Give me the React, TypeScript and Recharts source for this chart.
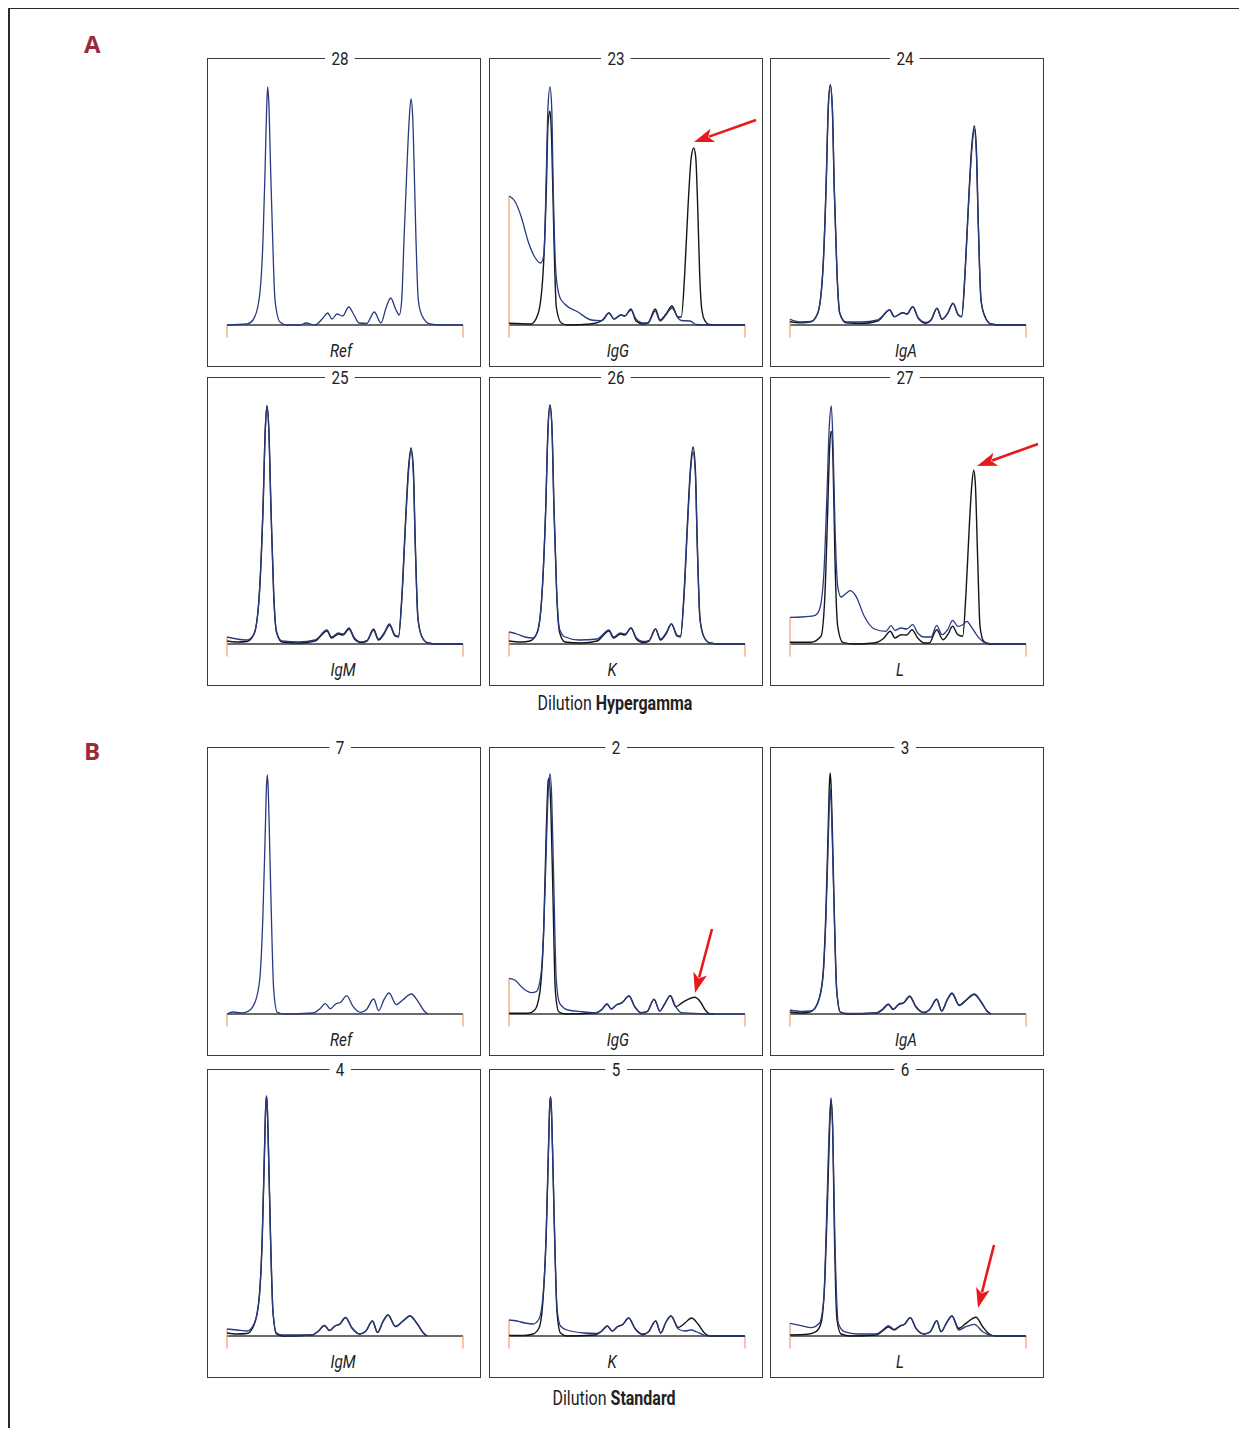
import React from "react"
import { LineChart, Line, XAxis, YAxis, ReferenceLine } from "recharts"

type Pt = [number, number]

// x: migration distance along the lane (0..236), y: density above the baseline
const X_MAX = 236
const Y_MIN = -13
const Y_MAX = 245

// ---- A: dilution hypergamma ----
const aRefBlue: Pt[] = [[0,0],[20,1],[26,5],[32,25],[36,85],[38,152],[39.7,218],[40.7,238],[42,218],[43.7,152],[45.7,85],[48,25],[53,3],[60,0],[73,0],[79,2],[88,0],[96,7],[100.7,12],[105,6],[110,11],[115.7,9],[121.7,18],[127,10],[132,2],[139.7,1.5],[147.3,13],[154,2],[159,17],[163.7,27],[169,15],[172.3,10],[174.7,25],[177,85],[179.7,152],[182,202],[184,226],[185.7,208],[187.3,152],[189,85],[191.3,25],[194.7,10],[203,1],[213,0],[236,0]]

const aIgGBlue: Pt[] = [[0,129],[5.7,124],[12.3,108],[19,84],[25.7,68],[31.7,62],[35,71],[37.3,151],[39,218],[41,238],[42.7,218],[44.3,134],[47,51],[50.7,28],[55.7,21],[69,13],[82.3,5],[92,4.3],[100,12],[105,6],[112,10],[115.7,9],[122,15],[127,6],[134,2],[139,2],[146.3,14],[151,4],[157,10],[163,17],[169,7],[172.3,4.5],[181,4],[187,0.5],[195,0],[236,0]]
const aIgGBlack: Pt[] = [[0,1.7],[22,1],[29,11],[34,51],[37.3,134],[39,201],[41,214],[42.7,184],[45,84],[47.3,18],[52.3,2],[59,0],[82,1],[94,5],[100,12],[105,6],[112,10],[115.7,9],[122,16],[127,4],[134,1],[139,2],[146.3,16],[151,5],[157,11],[163,19],[169,8],[172.3,8],[175.7,51],[179,118],[182.3,168],[184.7,177],[186.7,168],[188.7,118],[190.7,50],[193,14],[196,4],[200,0.5],[205,0],[236,0]]

const aIgABlue: Pt[] = [[0,5.7],[11,3],[21,3.5],[27.7,11.7],[32.7,51.7],[36,135],[38.3,218],[40.3,240],[42.3,218],[44.3,135],[47,52],[49.7,12],[56,3],[71,3],[87.7,5],[99.7,15],[104.3,8.3],[112.7,12.3],[117,11],[122.7,18.3],[128.3,7],[136,2.5],[141,5],[147,16.7],[152,5.7],[157.7,11.7],[163,21.7],[168.3,10],[171.7,8.3],[175,50],[178.3,116],[181.7,174],[184.3,195],[186.3,174],[188.3,100],[191,25],[195,8.3],[201,1],[210,0],[236,0]]
const aIgABlack: Pt[] = [[0,3.3],[11,2.3],[21,3.3],[27.7,11.7],[32.7,51.7],[36,135],[38.3,218],[40.3,240],[42.3,218],[44.3,135],[47,52],[49.7,12],[56,2.3],[71,1.5],[87.7,4],[99.7,15],[104.3,8.3],[112.7,12.3],[117,11],[122.7,18.3],[128.3,6.7],[136,1.7],[141,5],[147,16.7],[152,5.7],[157.7,11.7],[163,21.7],[168.3,10],[171.7,8.3],[175,51.7],[178.3,118],[181.7,178],[184.3,199],[186.3,178],[188.3,101.7],[191,25],[195,8.3],[201,1],[210,0],[236,0]]

const aIgMBlue: Pt[] = [[0,7],[10,5],[20,4],[27,10],[32,45],[36,135],[38.3,215],[40,238],[41.8,215],[44,135],[46.7,50],[49.5,12],[55,3],[72,2],[88,4],[100,14],[104.5,7],[111.5,11],[116,10],[122,16],[127.5,6],[134,2],[140,3.5],[146.5,15],[151.5,5],[157,11],[162.5,20],[168,9],[171.5,8],[175,48],[178.3,115],[181.5,172],[184,193],[186.3,172],[188.3,98],[191,25],[195,7],[201,1],[210,0],[236,0]]
const aIgMBlack: Pt[] = [[0,3],[10,2],[20,2.5],[27,10],[32,45],[36,135],[38.3,215],[40,238],[41.8,215],[44,135],[46.7,50],[49.5,12],[55,2],[72,1],[88,3],[100,13],[104.5,6],[111.5,10],[116,9],[122,15],[127.5,5],[134,1.5],[140,3],[146.5,14],[151.5,4],[157,10],[162.5,19],[168,8],[171.5,7],[175,50],[178.3,118],[181.5,176],[184,196],[186.3,176],[188.3,100],[191,25],[195,7],[201,1],[210,0],[236,0]]

const aKBlue: Pt[] = [[0,12],[8,10],[16,7],[24,6],[29,14],[33,50],[36.7,135],[39,215],[41,239],[43,215],[45,135],[47.7,52],[50.5,15],[56,7],[70,4],[88,5],[100,14],[104.5,7],[111.5,11],[116,10],[122,16],[127.5,6],[134,2.5],[140,3.5],[146.5,15],[151.5,5],[157,11],[162.5,20],[168,9],[171.5,8],[175,47],[178.3,114],[181.5,172],[184,192],[186.3,172],[188.3,98],[191,25],[195,7],[201,1],[210,0],[236,0]]
const aKBlack: Pt[] = [[0,3],[12,2],[21,3],[28,11],[33,50],[36.7,135],[39,215],[41,239],[43,215],[45,135],[47.7,50],[50.5,12],[56,2],[72,1],[88,3],[100,13],[104.5,6],[111.5,10],[116,9],[122,16],[127.5,5],[134,1.5],[140,3],[146.5,15],[151.5,4],[157,10],[162.5,20],[168,8],[171.5,7],[175,50],[178.3,118],[181.5,176],[184,197],[186.3,176],[188.3,100],[191,25],[195,7],[201,1],[210,0],[236,0]]

const aLBlue: Pt[] = [[0,26.7],[12,27],[24.3,28.3],[29.3,34],[33.7,67.7],[37,151],[39.3,218],[41.3,238],[43,201],[45,118],[47.7,57.7],[51,47],[55.3,50],[60.3,53.3],[66,47.7],[74.3,27.7],[84.3,15],[96,12.7],[101,18.3],[105,13.7],[111,16],[116.7,15],[122.7,19.3],[127.7,11],[134.3,7],[141,7],[146.7,18.7],[152,9.3],[157.7,14.3],[162.7,23.7],[167.7,17.7],[172.7,19.3],[177,22.7],[181,17.7],[187.7,7.7],[194.3,1.7],[201,0.3],[208,0],[236,0]]
const aLBlack: Pt[] = [[0,1.7],[21,1.7],[31,7.7],[35,51],[37.7,134],[39.7,197.7],[41.3,212.7],[43,184],[45,84],[47.7,17.7],[52.7,1.7],[64,0],[84,1],[94,6],[100.3,12.7],[105,6],[111,9.3],[116.7,9],[122,14.3],[127.7,6],[134.3,1],[139.3,1],[146.7,14.3],[153,4.3],[157.7,9.3],[162.7,17.7],[167.7,9.3],[172.7,7.7],[176,51],[179.3,117.7],[181.7,157.7],[183.7,173.7],[185.3,161],[187.7,84.3],[190,17.7],[193.7,2.7],[199,0],[236,0]]

// ---- B: dilution standard ----
const bRefBlue: Pt[] = [[0,0],[6,2],[14.3,1],[21,2.7],[27.7,11],[32.7,34.3],[36,101],[38.3,184],[39.5,228],[40.3,239],[41.1,228],[42.3,184],[44.3,101],[46.7,24.3],[50.3,1.7],[57.7,0],[86,1],[92.7,5],[98.3,10.3],[103.3,5.3],[108.7,10],[113.7,11.7],[119.7,18.3],[126,7.7],[133.7,1.7],[139.3,4.3],[146.7,15],[151.7,3.3],[157,14.3],[162,21],[169.3,9.3],[176,14.3],[184.3,20],[191,12.7],[197,3.3],[201,0]]

const bIgGBlue: Pt[] = [[0,35.7],[5.7,34],[14,25.7],[22.3,21.3],[27.3,22.3],[31.7,37.3],[34.7,84],[37.3,167],[39.3,224],[41,240],[42.7,217],[44.7,134],[47.3,34],[50.7,10.7],[59,4],[72.3,2.3],[87.3,1.3],[93,4.7],[98,10],[102.3,5],[107.3,9],[113,11.3],[120,18],[125.7,7.3],[131.7,1.3],[138,2.3],[145,14.7],[150.7,3],[155.7,10],[161.3,18.3],[166.7,7.3],[172.3,1.3],[185.7,0.7],[195,0],[236,0]]
const bIgGBlack: Pt[] = [[0,0.7],[19,0.7],[25.7,4],[30.7,20.7],[34.7,84],[37.3,184],[39.3,234],[40.3,235.7],[42,200.7],[44,117],[46.3,24],[49.7,2.3],[56,0],[87.3,1.3],[93,4.7],[98,10],[102.3,5],[107.3,9],[113,11.3],[120,18],[125.7,7.3],[131.7,1.3],[138,2.3],[145,14.7],[150.7,3],[155.7,10],[161.3,18.3],[166.7,7.3],[172.3,10.7],[179,14.7],[185.7,16.7],[191.3,12.3],[196.3,4],[200.7,0.3],[205,0]]

const bIgABlue: Pt[] = [[0,4],[12,2.5],[21,3],[27.7,11],[32.7,34],[36,98],[38.3,175],[39.5,214],[40.3,225],[41.1,214],[42.3,175],[44.3,98],[46.7,24],[50.3,2],[57.7,0.5],[86,1],[92.7,5],[98.3,10],[103.3,5],[108.7,10],[113.7,11.5],[119.7,18],[126,7.5],[133.7,1.5],[139.3,4],[146.7,15],[151.7,3],[157,14],[162,21],[169.3,9],[176,14],[184.3,20],[191,12.5],[197,3],[201,0]]
const bIgABlack: Pt[] = [[0,2],[12,1],[21,2.5],[27.7,11],[32.7,36],[36,105],[38.3,190],[39.4,230],[40.2,241],[41,230],[42.2,190],[44.3,101],[46.7,24],[50.3,2],[57.7,0],[86,1],[92.7,4.5],[98.3,9.5],[103.3,4.5],[108.7,9.5],[113.7,11],[119.7,17.5],[126,7],[133.7,1.5],[139.3,4],[146.7,14.5],[151.7,3],[157,13.5],[162,20.5],[169.3,8.5],[176,13.5],[184.3,19.5],[191,12],[197,3],[201,0]]

const bIgMBlue: Pt[] = [[0,7],[10,6],[20,5],[27,12],[32,36],[35.3,100],[37.5,185],[38.7,229],[39.5,240],[40.3,229],[41.5,185],[43.5,100],[46,24],[49.5,3],[56,1],[85,1],[91.5,5],[97.5,10.5],[102.5,5.5],[108,10],[113,12],[118.5,18.5],[125,8],[132.5,2],[138.5,4.5],[145.5,15],[150.5,3.5],[156,14.5],[161,21],[168.5,9.5],[175.5,14.5],[183,20],[190,12.5],[196,3.5],[200,0]]
const bIgMBlack: Pt[] = [[0,3],[10,2],[20,2.5],[27,11],[32,36],[35.3,100],[37.5,185],[38.7,229],[39.5,240],[40.3,229],[41.5,185],[43.5,100],[46,24],[49.5,2],[56,0],[85,1],[91.5,5],[97.5,10.5],[102.5,5.5],[108,10],[113,12],[118.5,18.5],[125,8],[132.5,2],[138.5,4.5],[145.5,15],[150.5,3.5],[156,14.5],[161,21],[168.5,9.5],[175.5,14.5],[183,20],[190,12.5],[196,3.5],[200,0]]

const bKBlue: Pt[] = [[0,16],[8,15],[16,13],[24,12],[30,17],[34,40],[37.3,105],[39.5,188],[40.7,230],[41.5,239],[42.3,230],[43.5,188],[45.5,105],[48,28],[51.5,10],[58,6],[75,3],[88,2.5],[92.7,5],[98.3,10],[103.3,5],[108.7,9.5],[113.7,11.5],[119.7,18],[126,7.5],[133.7,2],[139.3,4],[146.7,15],[151.7,3],[157,14],[162,20],[169.3,7],[176,5],[182,6],[188,4],[195,1],[201,0],[236,0]]
const bKBlack: Pt[] = [[0,0.5],[15,0.5],[24,2],[30,8],[34,36],[37.3,105],[39.5,188],[40.7,230],[41.5,239],[42.3,230],[43.5,188],[45.5,105],[48,24],[51.5,3],[58,0],[86,1],[92.7,5],[98.3,10],[103.3,5],[108.7,9.5],[113.7,11.5],[119.7,18],[126,7.5],[133.7,1.5],[139.3,4],[146.7,15],[151.7,3],[157,14],[162,20],[169.3,8.5],[176,13],[182.5,18],[189,12],[195,3.5],[201,0],[236,0]]

const bLBlue: Pt[] = [[0,12.7],[11,10.3],[21,8.3],[29.3,12.7],[33.7,36],[36.3,109],[38.7,192.7],[41,238.3],[43,192.7],[45,92.7],[48.3,12.7],[54.3,4.3],[67.7,2],[86,2],[92.7,6],[98.3,10.3],[104.3,6.7],[110.3,10.3],[114.3,11.7],[120.3,18.3],[126,7.7],[134.3,2],[140.3,4.3],[146.7,15.3],[151,4.3],[156.3,12.7],[162,20],[168.7,6],[176,9.3],[184.3,11.7],[192.7,4.3],[201,0.7],[208,0],[236,0]]
const bLBlack: Pt[] = [[0,1],[17.7,1.7],[26,4.3],[31,12.7],[35,59.3],[37.7,142.7],[39.7,209.3],[41,236.7],[42.7,209],[44.3,109],[47,16],[51,2],[61,0],[86,1],[92.7,5],[98.3,9],[104.3,6],[110.3,10],[114.3,11.5],[120.3,18.3],[126,7.7],[134.3,2],[140.3,4.3],[146.7,15.3],[151,4.3],[156.3,12.7],[162,20],[168.7,7.7],[176,12.7],[186,18.7],[192.7,9.3],[199.3,2],[206,0],[236,0]]

const TITLES_A = ["28", "23", "24", "25", "26", "27"]
const TITLES_B = ["7", "2", "3", "4", "5", "6"]
const LANES = ["Ref", "IgG", "IgA", "IgM", "K", "L"]

const BLUES_A = [aRefBlue, aIgGBlue, aIgABlue, aIgMBlue, aKBlue, aLBlue]
const BLACKS_A = [null, aIgGBlack, aIgABlack, aIgMBlack, aKBlack, aLBlack]
const BLUES_B = [bRefBlue, bIgGBlue, bIgABlue, bIgMBlue, bKBlue, bLBlue]
const BLACKS_B = [null, bIgGBlack, bIgABlack, bIgMBlack, bKBlack, bLBlack]

// layout (page pixels)
const COL_LEFT = [207, 489, 770]
const BOX_W = 274
const BOX_H = 309
const ROW_TOP = [58, 377, 747, 1069]
const TITLE_X = [340, 616, 905]
const LABEL_X = [341, 618, 906, 343, 612, 900]

const BLUE = "#283a80"
const BLACK = "#151515"
const ORANGE = "#f39c6b"
const RED = "#e8191c"
const FONT = "Roboto, 'Open Sans', sans-serif"
const SQUEEZE = "scaleX(0.8)"

const toXY = (pts: Pt[]) => pts.map(([x, y]) => ({ x, y }))

type PanelProps = {
  left: number
  top: number
  title: string
  lane: string
  titleX: number
  labelX: number
  blue: Pt[]
  black: Pt[] | null
}

function Panel({ left, top, title, lane, titleX, labelX, blue, black }: PanelProps) {
  const startTop = Math.max(blue[0][1], black ? black[0][1] : 0)
  const textStyle: React.CSSProperties = {
    position: "absolute",
    transform: `translateX(-50%) ${SQUEEZE}`,
    fontFamily: FONT,
    fontSize: 19,
    lineHeight: "22px",
    color: "#222",
    whiteSpace: "nowrap",
    background: "#fff",
  }
  return (
    <div style={{ position: "absolute", left, top, width: BOX_W, height: BOX_H }}>
      <div
        style={{
          position: "absolute",
          inset: 0,
          border: "1.8px solid #3c3c3c",
          boxSizing: "border-box",
        }}
      />
      <div style={{ position: "absolute", left: 15, top: 17 }}>
        <LineChart
          width={X_MAX + 10}
          height={Y_MAX - Y_MIN + 10}
          margin={{ top: 5, right: 5, bottom: 5, left: 5 }}
        >
          <XAxis type="number" dataKey="x" domain={[0, X_MAX]} hide allowDataOverflow />
          <YAxis type="number" domain={[Y_MIN, Y_MAX]} hide allowDataOverflow />
          <ReferenceLine segment={[{ x: 0, y: 0 }, { x: X_MAX, y: 0 }]} stroke="#3a3a3a" strokeWidth={1.5} />
          <ReferenceLine segment={[{ x: 0, y: -12.5 }, { x: 0, y: startTop }]} stroke={ORANGE} strokeWidth={1.2} />
          <ReferenceLine segment={[{ x: X_MAX, y: -12.5 }, { x: X_MAX, y: 0 }]} stroke={ORANGE} strokeWidth={1.2} />
          {black && (
            <Line
              data={toXY(black)}
              dataKey="y"
              type="monotone"
              stroke={BLACK}
              strokeWidth={1.4}
              dot={false}
              activeDot={false}
              isAnimationActive={false}
            />
          )}
          <Line
            data={toXY(blue)}
            dataKey="y"
            type="monotone"
            stroke={BLUE}
            strokeWidth={1.3}
            dot={false}
            activeDot={false}
            isAnimationActive={false}
          />
        </LineChart>
      </div>
      <div style={{ ...textStyle, left: titleX - left, top: -10, padding: "0 8px" }}>{title}</div>
      <div style={{ ...textStyle, left: labelX - left, top: 282, fontStyle: "italic", background: "none" }}>
        {lane}
      </div>
    </div>
  )
}

function Arrow({ x1, y1, x2, y2 }: { x1: number; y1: number; x2: number; y2: number }) {
  const dx = x2 - x1
  const dy = y2 - y1
  const len = Math.hypot(dx, dy)
  const ux = dx / len
  const uy = dy / len
  const head = 20
  const half = 7
  const bx = x2 - ux * head
  const by = y2 - uy * head
  const pts = [
    [x2, y2],
    [bx - uy * half, by + ux * half],
    [x2 - ux * head * 0.75, y2 - uy * head * 0.75],
    [bx + uy * half, by - ux * half],
  ]
  return (
    <g>
      <line x1={x1} y1={y1} x2={x2 - ux * head * 0.8} y2={y2 - uy * head * 0.8} stroke={RED} strokeWidth={2.6} />
      <polygon points={pts.map((p) => p.join(",")).join(" ")} fill={RED} />
    </g>
  )
}

const ARROWS = [
  { x1: 756, y1: 120, x2: 694, y2: 142 },
  { x1: 1038, y1: 444, x2: 977, y2: 466 },
  { x1: 712, y1: 929, x2: 695, y2: 993 },
  { x1: 994, y1: 1245, x2: 978, y2: 1308 },
]

export default function App() {
  const sections = [
    { titles: TITLES_A, blues: BLUES_A, blacks: BLACKS_A, rows: [0, 1] },
    { titles: TITLES_B, blues: BLUES_B, blacks: BLACKS_B, rows: [2, 3] },
  ]
  const capStyle: React.CSSProperties = {
    position: "absolute",
    transform: `translateX(-50%) ${SQUEEZE}`,
    fontFamily: FONT,
    fontSize: 20,
    lineHeight: "22px",
    color: "#222",
    whiteSpace: "nowrap",
  }
  const secStyle: React.CSSProperties = {
    position: "absolute",
    fontFamily: "'Open Sans', 'DejaVu Sans', sans-serif",
    fontWeight: 700,
    fontSize: 24,
    lineHeight: "28px",
    color: "#9b2a40",
  }
  return (
    <div style={{ position: "relative", left: -8, top: -8, width: 1231, height: 1420 }}>
      <svg
        width={1247}
        height={1441}
        style={{ position: "absolute", left: 0, top: 0, pointerEvents: "none" }}
      >
        <path d="M9 1441 L9 8 L1247 8" fill="none" stroke="#2a2a2a" strokeWidth={2} />
      </svg>
      <div style={{ ...secStyle, left: 84, top: 30 }}>A</div>
      <div style={{ ...secStyle, left: 84, top: 737 }}>B</div>
      {sections.map((s, si) =>
        s.titles.map((t, i) => {
          const r = s.rows[Math.floor(i / 3)]
          const c = i % 3
          return (
            <Panel
              key={`${si}-${i}`}
              left={COL_LEFT[c]}
              top={ROW_TOP[r]}
              title={t}
              lane={LANES[i]}
              titleX={TITLE_X[c]}
              labelX={LABEL_X[i]}
              blue={s.blues[i]}
              black={s.blacks[i]}
            />
          )
        })
      )}
      <div style={{ ...capStyle, left: 615, top: 692 }}>
        Dilution <b>Hypergamma</b>
      </div>
      <div style={{ ...capStyle, left: 614, top: 1387 }}>
        Dilution <b>Standard</b>
      </div>
      <svg
        width={1247}
        height={1420}
        style={{ position: "absolute", left: 0, top: 0, pointerEvents: "none" }}
      >
        {ARROWS.map((a, i) => (
          <Arrow key={i} {...a} />
        ))}
      </svg>
    </div>
  )
}
